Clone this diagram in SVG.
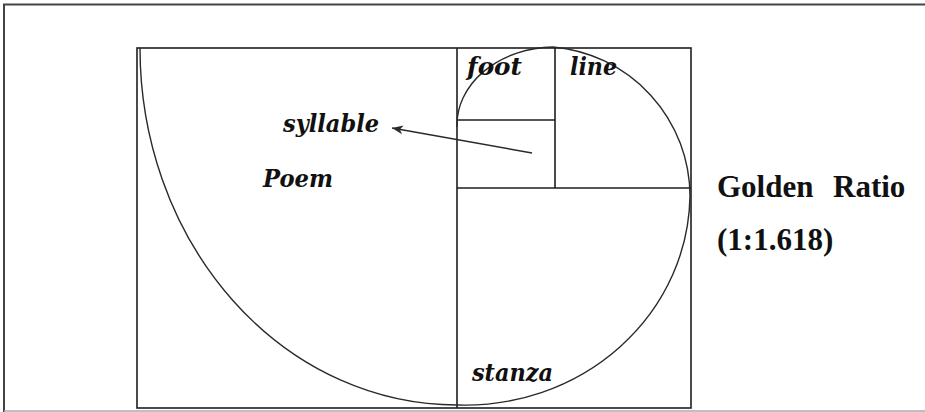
<svg xmlns="http://www.w3.org/2000/svg" width="925" height="412" viewBox="0 0 925 412">
<style>
.ln{stroke:#1e1e1e;stroke-width:1.6;fill:none}
.arc{stroke:#2a2a2a;stroke-width:1.4;fill:none}
.it{font-family:"DejaVu Serif","Liberation Serif",serif;font-weight:bold;font-style:italic;font-size:24px;fill:#111}
.bd{font-family:"Liberation Serif","Times New Roman",serif;font-weight:bold;font-size:31px;fill:#111}
</style>
<defs>
<marker id="ah" markerWidth="12" markerHeight="10" refX="11" refY="5" orient="auto" markerUnits="userSpaceOnUse">
<path d="M11,5 L0,0.5 L3,5 L0,9.5 Z" fill="#2a2a2a"/>
</marker>
</defs>
<rect width="925" height="412" fill="#fff"/>
<g id="frame">
<line x1="3" y1="4.5" x2="925" y2="4.5" stroke="#444" stroke-width="2"/>
<line x1="4" y1="4" x2="4" y2="412" stroke="#444" stroke-width="2"/>
<line x1="4" y1="411" x2="925" y2="411" stroke="#aaa" stroke-width="1.5"/>
</g>
<g id="rectangles">
<rect class="ln" x="137" y="48" width="554" height="360"/>
<line class="ln" x1="457" y1="48" x2="457" y2="408"/>
<line class="ln" x1="457" y1="188" x2="691" y2="188"/>
<line class="ln" x1="555" y1="48" x2="555" y2="188"/>
<line class="ln" x1="457" y1="120" x2="555" y2="120"/>
</g>
<g id="spiral">
<path class="arc" d="M457,127 A98,78 0 0 1 553,47 A150,150 0 0 1 690,196 A225,212 0 0 1 457,405 A317,357 0 0 1 140,48"/>
</g>
<g id="connectors">
<line x1="532" y1="153" x2="392" y2="128" stroke="#2a2a2a" stroke-width="1.5" marker-end="url(#ah)"/>
</g>
<g id="syllable"><text class="it" x="283" y="132" textLength="96" lengthAdjust="spacingAndGlyphs">syllable</text></g>
<g id="poem"><text class="it" x="263" y="187" textLength="70" lengthAdjust="spacingAndGlyphs">Poem</text></g>
<g id="foot"><text class="it" x="467" y="75" textLength="55" lengthAdjust="spacingAndGlyphs">foot</text></g>
<g id="line"><text class="it" x="570" y="75" textLength="47" lengthAdjust="spacingAndGlyphs">line</text></g>
<g id="stanza"><text class="it" x="472" y="381" textLength="81" lengthAdjust="spacingAndGlyphs">stanza</text></g>
<g id="golden-ratio">
<text class="bd" x="717" y="197">Golden</text>
<text class="bd" x="833" y="197">Ratio</text>
<text class="bd" x="717" y="250">(1:1.618)</text>
</g>
</svg>
